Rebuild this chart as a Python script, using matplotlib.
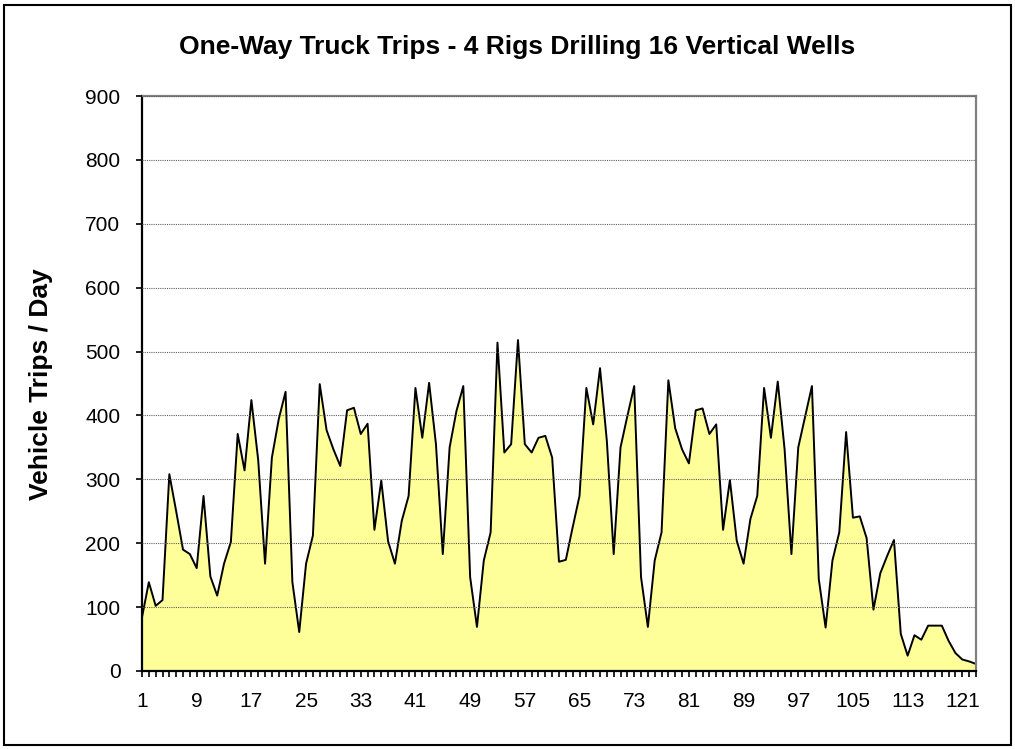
import numpy as np
import matplotlib
matplotlib.use("Agg")
import matplotlib.pyplot as plt
from matplotlib.patches import Rectangle

plt.rcParams['font.family'] = ['Liberation Sans', 'DejaVu Sans']

# daily one-way truck trips (day 1 .. 123)
days = list(range(1, 124))
trips = [
    84, 139, 102, 111, 308, 250, 190, 183, 161, 274,
    148, 118, 168, 202, 371, 314, 424, 330, 168, 334,
    394, 437, 139, 61, 168, 212, 449, 377, 347, 321,
    408, 412, 371, 387, 221, 298, 203, 168, 235, 274,
    443, 365, 451, 355, 183, 350, 407, 446, 147, 69,
    173, 217, 514, 342, 355, 518, 355, 342, 365, 368,
    334, 171, 174, 225, 274, 443, 386, 474, 360, 183,
    350, 399, 446, 147, 69, 173, 217, 455, 380, 347,
    325, 408, 411, 371, 386, 221, 299, 204, 168, 238,
    274, 443, 365, 453, 347, 183, 350, 398, 446, 144,
    68, 173, 217, 374, 240, 242, 208, 96, 153, 180,
    205, 58, 24, 56, 49, 71, 71, 71, 47, 28,
    18, 15, 11,
]
x_labels = list(range(1, 122, 8))
y_ticks = list(range(0, 901, 100))

title = "One-Way Truck Trips - 4 Rigs Drilling 16 Vertical Wells"
y_title = "Vehicle Trips / Day"

W, H = 1015, 749
fig = plt.figure(figsize=(W / 100, H / 100), dpi=100)

# outer chart border
fig.patches.append(Rectangle((4 / W, 4 / H), 1007 / W, 740 / H, transform=fig.transFigure,
                             fill=False, edgecolor='black', linewidth=1.5))

left, right, top, bottom = 142, 976, 96, 671
ax = fig.add_axes([left / W, 1 - bottom / H, (right - left) / W, (bottom - top) / H])

ax.fill_between(days, trips, 0, color='#FFFF99', linewidth=0)
ax.plot(days, trips, color='black', linewidth=1.4)

ax.set_xlim(days[0], days[-1])
ax.set_ylim(0, 900)
ax.set_yticks(y_ticks)
ax.set_xticks(x_labels)
ax.set_xticks(days, minor=True)
ax.tick_params(axis='both', which='both', direction='out', length=4.5, width=1.2,
               labelsize=15, colors='black')
ax.tick_params(axis='x', pad=10.5)
ax.tick_params(axis='y', pad=11)

ax.yaxis.grid(True, linestyle=(0, (1, 1)), color='#606060', linewidth=0.8)
ax.set_axisbelow(False)
for gl in ax.get_ygridlines():
    gl.set_zorder(0.5)

for side in ('left', 'bottom'):
    ax.spines[side].set_color('black')
    ax.spines[side].set_linewidth(1.6)
for side in ('top', 'right'):
    ax.spines[side].set_color('#808080')
    ax.spines[side].set_linewidth(1.6)

fig.text(41 / W, 1 - 384 / H, y_title, rotation=90, ha='center', va='center',
         fontsize=19, fontweight='bold')
fig.text(517 / W, 1 - 47 / H, title, ha='center', va='center',
         fontsize=19, fontweight='bold')

fig.savefig('out.png', dpi=100)
